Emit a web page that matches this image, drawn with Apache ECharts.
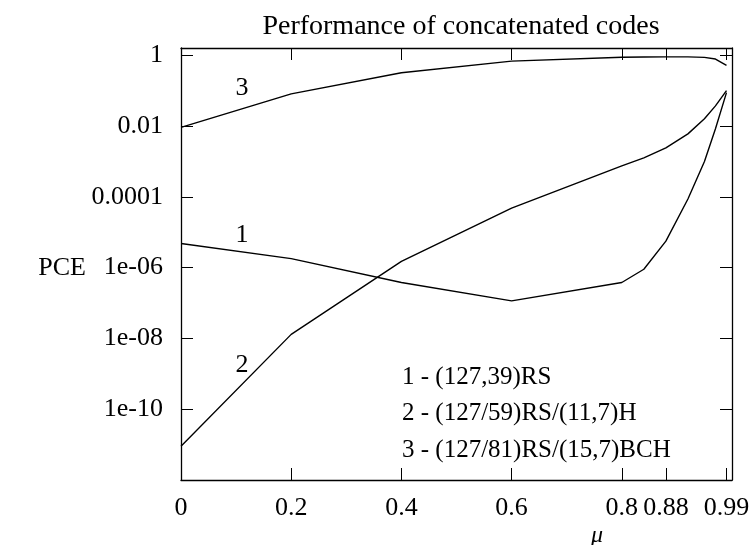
<!DOCTYPE html>
<html>
<head>
<meta charset="utf-8">
<script src="https://cdn.jsdelivr.net/npm/echarts@6/dist/echarts.min.js"></script>
<style>
    html, body { margin: 0; padding: 0; background: #fff; }
    #chart { width: 754px; height: 545px; }
</style>
</head>
<body>
<div id="chart"></div>
<script>
// code rate parameter on the x axis
const mu = [0, 0.2, 0.4, 0.6, 0.8, 0.84, 0.88, 0.92, 0.95, 0.97, 0.99];
// PCE for the three codes
const pce1 = [4.8e-6, 1.8e-6, 3.8e-7, 1.15e-7, 3.8e-7, 9e-7, 5.6e-6, 8.7e-5, 1.0e-3, 8.4e-3, 0.088];
const pce2 = [9e-12, 1.3e-8, 1.5e-6, 4.8e-5, 7.5e-4, 1.26e-3, 2.4e-3, 6e-3, 0.016, 0.037, 0.1];
const pce3 = [0.0092, 0.081, 0.32, 0.68, 0.88, 0.89, 0.9, 0.9, 0.87, 0.78, 0.52];

const xTicks = [0, 0.2, 0.4, 0.6, 0.8, 0.88, 0.99];
const yTicks = [1, 1e-2, 1e-4, 1e-6, 1e-8, 1e-10];
const yTickLabels = ['1', '0.01', '0.0001', '1e-06', '1e-08', '1e-10'];
const legendLines = ['1 - (127,39)RS', '2 - (127/59)RS/(11,7)H', '3 - (127/81)RS/(15,7)BCH'];

const serif = "'Liberation Serif', 'Times New Roman', serif";

function pairs(ys) {
    return mu.map((m, i) => [m, ys[i]]);
}

function yLabel(v) {
    for (let i = 0; i < yTicks.length; i++) {
        if (Math.abs(Math.log10(v) - Math.log10(yTicks[i])) < 1e-6) return yTickLabels[i];
    }
    return '';
}

function txt(x, y, s, font, align) {
    return {
        type: 'text', x: x, y: y, silent: true,
        style: {
            text: s, fill: '#000', font: font,
            textAlign: align || 'left', textVerticalAlign: 'middle'
        }
    };
}

const chart = echarts.init(document.getElementById('chart'));

const tickStyle = { show: true, inside: true, length: 12, lineStyle: { color: '#000', width: 1 } };
const lineStyle = { show: true, onZero: false, lineStyle: { color: '#000', width: 1.3 } };

const option = {
    animation: false,
    title: {
        text: 'Performance of concatenated codes',
        left: 456,
        top: 8,
        textAlign: 'center',
        textStyle: { fontFamily: serif, fontSize: 28, fontWeight: 'normal', color: '#000' }
    },
    grid: { left: 181, right: 22, top: 48, bottom: 65, containLabel: false },
    xAxis: [
        {
            type: 'value', min: 0, max: 1, position: 'bottom',
            axisLine: lineStyle,
            axisTick: Object.assign({ customValues: xTicks }, tickStyle),
            axisLabel: {
                customValues: xTicks, margin: 15, color: '#000',
                fontFamily: serif, fontSize: 26,
                formatter: v => String(v)
            },
            splitLine: { show: false }
        },
        {
            type: 'value', min: 0, max: 1, position: 'top',
            axisLine: lineStyle,
            axisTick: Object.assign({ customValues: xTicks }, tickStyle),
            axisLabel: { show: false },
            splitLine: { show: false }
        }
    ],
    yAxis: [
        {
            type: 'log', logBase: 10, min: 1e-12, max: 1.6, position: 'left',
            axisLine: lineStyle,
            axisTick: Object.assign({ customValues: yTicks }, tickStyle),
            axisLabel: {
                customValues: yTicks, margin: 18, color: '#000',
                fontFamily: serif, fontSize: 26,
                formatter: yLabel
            },
            minorTick: { show: false },
            splitLine: { show: false }
        },
        {
            type: 'log', logBase: 10, min: 1e-12, max: 1.6, position: 'right',
            axisLine: lineStyle,
            axisTick: Object.assign({ customValues: yTicks }, tickStyle),
            axisLabel: { show: false },
            splitLine: { show: false }
        }
    ],
    series: [pce1, pce2, pce3].map(d => ({
        type: 'line',
        data: pairs(d),
        xAxisIndex: 0,
        yAxisIndex: 0,
        symbol: 'none',
        lineStyle: { color: '#000', width: 1.4 }
    })),
    graphic: [
        txt(242, 88, '3', '26px ' + serif, 'center'),
        txt(242, 235, '1', '26px ' + serif, 'center'),
        txt(242, 365, '2', '26px ' + serif, 'center'),
        txt(402, 377, legendLines[0], '25px ' + serif),
        txt(402, 413, legendLines[1], '25px ' + serif),
        txt(402, 450, legendLines[2], '25px ' + serif),
        txt(86, 268, 'PCE', '26px ' + serif, 'right'),
        txt(597, 536, 'μ', 'italic 24px ' + serif, 'center')
    ]
};

chart.setOption(option);
</script>
</body>
</html>
